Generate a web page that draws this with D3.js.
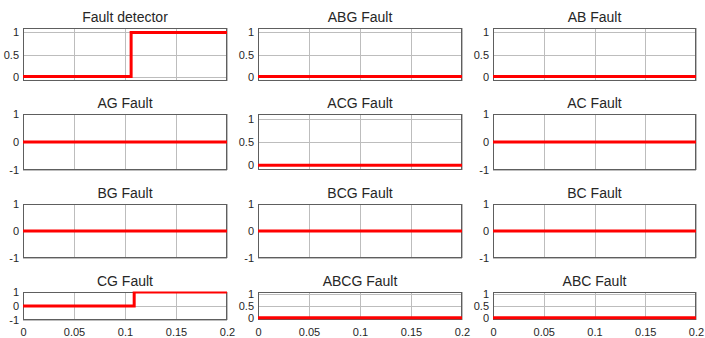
<!DOCTYPE html>
<html>
<head>
<meta charset="utf-8">
<script src="https://cdn.jsdelivr.net/npm/d3@7"></script>
<style>
  html, body { margin: 0; padding: 0; background: #fff; }
  svg { display: block; }
  text { font-family: "Liberation Sans", Arial, sans-serif; fill: #262626; }
</style>
</head>
<body>
<svg id="chart" width="705" height="338"></svg>
<script>
(function (d3) {
  'use strict';

  // panel titles, row by row
  const panelTitles = [
    'Fault detector', 'ABG Fault', 'AB Fault',
    'AG Fault', 'ACG Fault', 'AC Fault',
    'BG Fault', 'BCG Fault', 'BC Fault',
    'CG Fault', 'ABCG Fault', 'ABC Fault'
  ];

  // which y range each panel uses: 'unit' = 0..1 with padding, 'sym' = -1..1
  const panelScale = [
    'unit', 'unit', 'unit',
    'sym', 'unit', 'sym',
    'sym', 'sym', 'sym',
    'sym', 'unit', 'unit'
  ];

  // signals (time in s, value)
  const tFlat = [0, 0.2];
  const vFlat = [0, 0];
  const tDetector = [0, 0.106, 0.106, 0.2];
  const vDetector = [0, 0, 1, 1];
  const tCG = [0, 0.109, 0.109, 0.2];
  const vCG = [0, 0, 1, 1];

  const panelSignals = [
    [tDetector, vDetector], [tFlat, vFlat], [tFlat, vFlat],
    [tFlat, vFlat], [tFlat, vFlat], [tFlat, vFlat],
    [tFlat, vFlat], [tFlat, vFlat], [tFlat, vFlat],
    [tCG, vCG], [tFlat, vFlat], [tFlat, vFlat]
  ];

  const xTicks = [0, 0.05, 0.1, 0.15, 0.2];
  const unitTicks = [0, 0.5, 1];
  const symTicks = [-1, 0, 1];

  // layout
  const colLeft = [23, 258, 493];
  const colRight = [227, 462, 696];
  const rowTop = [28, 114, 204, 292];
  const rowBottom = [81, 170, 258, 320];

  const GRID = '#bdbdbd';
  const BOX = '#5e5e5e';
  const RED = '#ff0000';

  const svg = d3.select('#chart');
  const fmt = (d) => String(d);

  panelTitles.forEach((title, i) => {
    const r = Math.floor(i / 3);
    const c = i % 3;
    const x0 = colLeft[c], x1 = colRight[c];
    const y0 = rowTop[r], y1 = rowBottom[r];

    const x = d3.scaleLinear().domain([0, 0.2]).range([x0, x1]);
    const isUnit = panelScale[i] === 'unit';
    const y = d3.scaleLinear()
      .domain(isUnit ? [-0.1, 1.1] : [-1, 1])
      .range([y1, y0]);
    const yTicks = isUnit ? unitTicks : symTicks;

    const g = svg.append('g');

    g.append('clipPath').attr('id', 'clip' + i)
      .append('rect')
      .attr('x', x0).attr('y', y0 - 0.5)
      .attr('width', x1 - x0).attr('height', y1 - y0 + 1);

    // grid
    g.append('g').selectAll('line.vx')
      .data(xTicks)
      .join('line')
      .attr('x1', (d) => Math.round(x(d)) + 0.5).attr('x2', (d) => Math.round(x(d)) + 0.5)
      .attr('y1', y0).attr('y2', y1)
      .attr('stroke', GRID).attr('stroke-width', 1);
    g.append('g').selectAll('line.hy')
      .data(yTicks)
      .join('line')
      .attr('x1', x0).attr('x2', x1)
      .attr('y1', (d) => Math.round(y(d)) + 0.5).attr('y2', (d) => Math.round(y(d)) + 0.5)
      .attr('stroke', GRID).attr('stroke-width', 1);

    // y axis labels
    const yAxis = d3.axisLeft(y).tickValues(yTicks).tickFormat(fmt).tickSize(0).tickPadding(4);
    const ya = g.append('g').attr('transform', `translate(${x0},0)`).call(yAxis);
    ya.select('.domain').remove();
    ya.selectAll('text').style('font-size', '11px').attr('fill', '#262626')
      .style('font-family', '"Liberation Sans", Arial, sans-serif');

    // x axis labels only on the bottom row
    if (r === 3) {
      const xAxis = d3.axisBottom(x).tickValues(xTicks).tickFormat(fmt).tickSize(0).tickPadding(8);
      const xa = g.append('g').attr('transform', `translate(0,${y1})`).call(xAxis);
      xa.select('.domain').remove();
      xa.selectAll('text').style('font-size', '11px').attr('fill', '#262626')
        .style('font-family', '"Liberation Sans", Arial, sans-serif');
    }

    // box
    g.append('rect')
      .attr('x', x0 + 0.5).attr('y', y0 + 0.5)
      .attr('width', x1 - x0 - 1).attr('height', y1 - y0 - 1)
      .attr('fill', 'none').attr('stroke', BOX).attr('stroke-width', 1);

    // signal, drawn over the box
    const [ts, vs] = panelSignals[i];
    const pts = ts.map((t, k) => [t, vs[k]]);
    g.append('path')
      .datum(pts)
      .attr('clip-path', `url(#clip${i})`)
      .attr('fill', 'none')
      .attr('stroke', RED)
      .attr('stroke-width', 3)
      .attr('d', d3.line().x((d) => x(d[0])).y((d) => y(d[1])));

    // title
    g.append('text')
      .attr('x', (x0 + x1) / 2).attr('y', y0 - 6)
      .attr('text-anchor', 'middle')
      .style('font-size', '14px')
      .attr('fill', '#1a1a1a')
      .text(title);
  });

}(d3));
</script>
</body>
</html>
